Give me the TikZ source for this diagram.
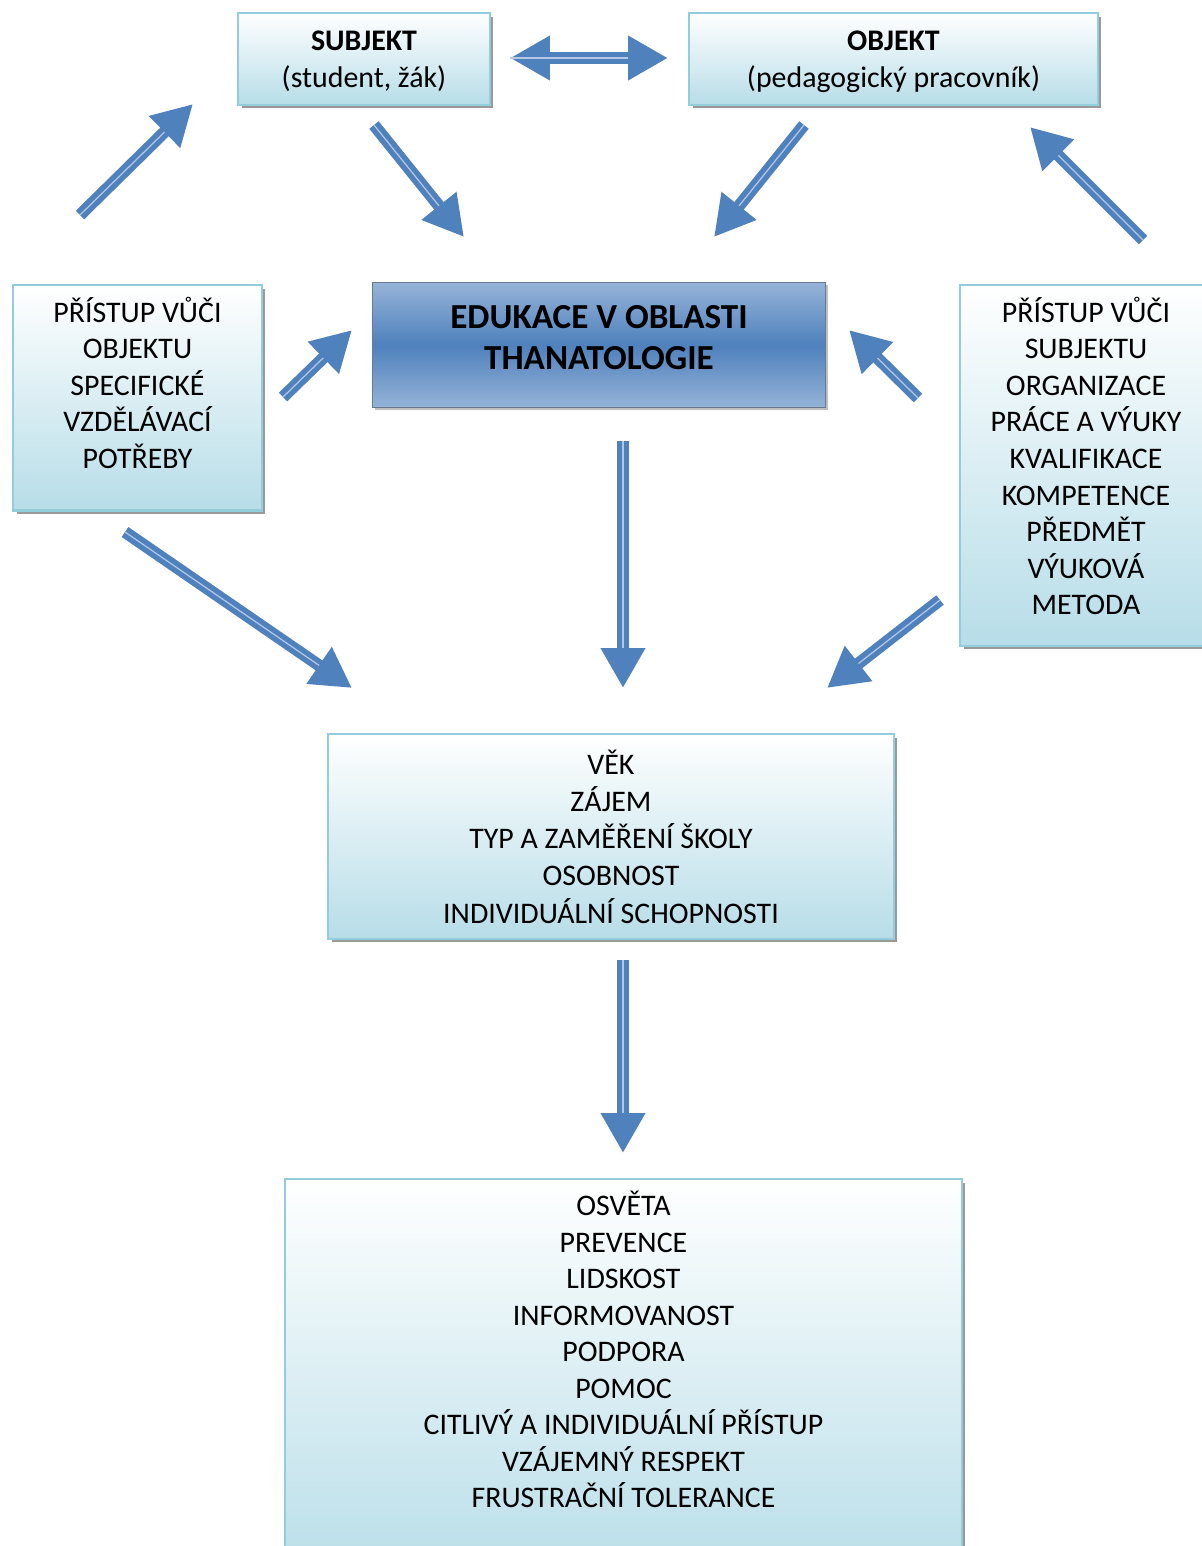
\documentclass[tikz,border=0pt]{standalone}
\usepackage{fontspec}
\setmainfont{Carlito}
\usepackage{tikz}
\usetikzlibrary{arrows.meta,shadows}
\definecolor{arrowblue}{RGB}{79,129,189}
\definecolor{shaftline}{RGB}{178,200,230}
\definecolor{boxline}{RGB}{146,205,220}
\definecolor{boxfill}{RGB}{183,221,232}
\definecolor{edulight}{RGB}{149,179,215}
\definecolor{eduline}{RGB}{105,120,145}
\tikzset{
  infobox/.style={draw=boxline, line width=1.2pt, top color=white, bottom color=boxfill,
    align=center, font=\fontsize{17}{20.8}\selectfont,
    drop shadow={fill=black!40, opacity=1, shadow xshift=0.07cm, shadow yshift=-0.07cm}},
  topalign/.style={anchor=north, inner ysep=0.24cm},
  bigarrow/.style={draw=arrowblue, line width=0.24cm, -{Triangle[width=0.84cm,length=0.8cm]},
    postaction={draw=shaftline, line width=0.025cm, -, shorten >=0.8cm}},
}

\begin{document}
\begin{tikzpicture}[x=0.02cm, y=-0.02cm]
    \fill[white] (0,0) rectangle (1201,1546);
    \useasboundingbox (0,0) rectangle (1201,1546);
    % the boxes
    \node[infobox, minimum width=5.04cm, minimum height=1.84cm, text depth=0pt] (subj) at (364,59)
        {\textbf{SUBJEKT}\\(student, žák)};
    \node[infobox, minimum width=8.18cm, minimum height=1.84cm, text depth=0pt] (obj) at (893.5,59)
        {\textbf{OBJEKT}\\(pedagogický pracovník)};
    \node[infobox, topalign, minimum width=4.98cm, text depth=0.6cm] (lbox) at (137.5,284)
        {PŘÍSTUP VŮČI\\OBJEKTU\\SPECIFICKÉ\\VZDĚLÁVACÍ\\POTŘEBY};
    \node[infobox, topalign, minimum width=5.04cm, text depth=0.38cm] (rbox) at (1086,284)
        {PŘÍSTUP VŮČI\\SUBJEKTU\\ORGANIZACE\\PRÁCE A VÝUKY\\KVALIFIKACE\\KOMPETENCE\\PŘEDMĚT\\VÝUKOVÁ\\METODA};
    \node[draw=eduline, line width=0.6pt, top color=edulight, bottom color=edulight, middle color=arrowblue,
        align=center, font=\fontsize{20}{23.3}\selectfont\bfseries,
        drop shadow={fill=black!25, opacity=1, shadow xshift=0.05cm, shadow yshift=-0.05cm},
        anchor=north, inner ysep=0.46cm, text depth=0.3cm, minimum width=9.08cm] (edu) at (599,282)
        {EDUKACE V OBLASTI\\THANATOLOGIE};
    \node[infobox, minimum width=11.32cm, minimum height=4.1cm, font=\fontsize{17}{21.2}\selectfont] (mid) at (611,836.5)
        {VĚK\\ZÁJEM\\TYP A ZAMĚŘENÍ ŠKOLY\\OSOBNOST\\INDIVIDUÁLNÍ SCHOPNOSTI};
    \node[infobox, topalign, minimum width=13.54cm, text depth=1.3cm] (goal) at (623.5,1178)
        {OSVĚTA\\PREVENCE\\LIDSKOST\\INFORMOVANOST\\PODPORA\\POMOC\\CITLIVÝ A INDIVIDUÁLNÍ PŘÍSTUP\\VZÁJEMNÝ RESPEKT\\FRUSTRAČNÍ TOLERANCE};
    % arrow ends
    \coordinate (dl) at (510,58);   \coordinate (dr) at (668,58);
    \coordinate (a1) at (80,215);   \coordinate (b1) at (193,104);
    \coordinate (a2) at (374,125);  \coordinate (b2) at (464,237);
    \coordinate (a3) at (804,125);  \coordinate (b3) at (714,237);
    \coordinate (a4) at (1143,240); \coordinate (b4) at (1030,127);
    \coordinate (a5) at (283,397);  \coordinate (b5) at (352,330);
    \coordinate (a6) at (918,398);  \coordinate (b6) at (849,330);
    \coordinate (a7) at (623,441);  \coordinate (b7) at (623,688);
    \coordinate (a8) at (125,532);  \coordinate (b8) at (352,688);
    \coordinate (a9) at (940,600);  \coordinate (b9) at (827,688);
    \coordinate (a10) at (623,960); \coordinate (b10) at (623,1153);
    % arrows
    \draw[bigarrow, {Triangle[width=0.84cm,length=0.8cm]}-{Triangle[width=0.84cm,length=0.8cm]},
        postaction={draw=shaftline, line width=0.025cm, -, shorten <=0.8cm, shorten >=0.8cm}] (dl) -- (dr);
    \foreach \i in {1,...,10}
        \draw[bigarrow] (a\i) -- (b\i);
  \end{tikzpicture}
\end{document}
